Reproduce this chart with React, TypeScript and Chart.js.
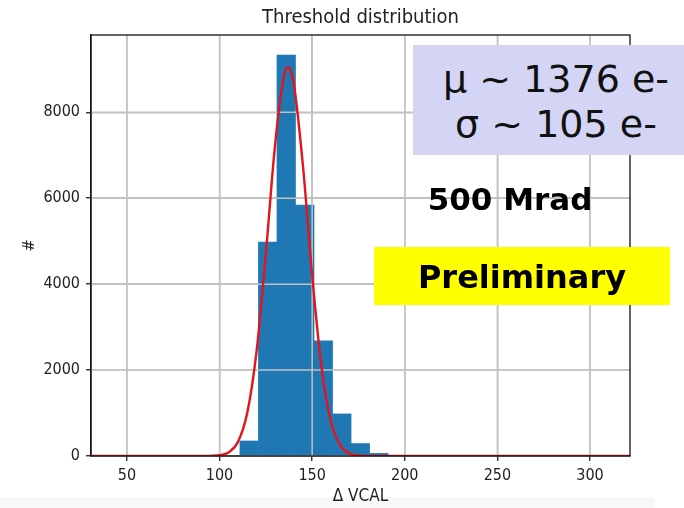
import React, { useEffect, useRef } from "react";
import { Chart, registerables } from "chart.js";

Chart.register(...registerables);

// ---- data ----
const binCenters = [116, 126, 136, 146, 156, 166, 176, 186];
const binCounts = [350, 4980, 9330, 5840, 2680, 980, 290, 60];
const fitX = [20, 90, 95, 100, 105, 110, 115, 120, 125, 130, 135, 137, 140, 145, 150, 155, 160, 165, 170, 175, 180, 185, 330];
const fitY = [0, 0, 3, 18, 87, 330, 1010, 2440, 4710, 7250, 8890, 9050, 8690, 6770, 4210, 2080, 820, 260, 65, 13, 2, 0, 0];
const xTicks = [50, 100, 150, 200, 250, 300];
const yTicks = [0, 2000, 4000, 6000, 8000];
const chartTitle = "Threshold distribution";
const xLabel = "Δ VCAL";
const yLabel = "#";
const statLines = ["μ ~ 1376 e-", "σ ~ 105 e-"];
const doseLabel = "500 Mrad";
const stampLabel = "Preliminary";

const AX_FONT = "'DejaVu Sans Condensed', 'DejaVu Sans', sans-serif";
const GRID = "#c2c2c2";
const TXT = "#222";

const gridOverlay = {
  id: "gridOverlay",
  afterDatasetDraw(chart: any, args: any) {
    if (args.index !== 1) return;
    const { ctx, chartArea: a, scales } = chart;
    const x = scales.x;
    const y = scales.y;
    ctx.save();
    ctx.beginPath();
    ctx.rect(a.left, a.top, a.right - a.left, a.bottom - a.top);
    ctx.clip();
    ctx.strokeStyle = GRID;
    ctx.lineWidth = 1.5;
    ctx.beginPath();
    for (const v of xTicks) {
      const px = x.getPixelForValue(v);
      ctx.moveTo(px, a.top);
      ctx.lineTo(px, a.bottom);
    }
    for (const v of yTicks) {
      const py = y.getPixelForValue(v);
      ctx.moveTo(a.left, py);
      ctx.lineTo(a.right, py);
    }
    ctx.stroke();
    ctx.restore();
  },
};

const frameAndTitle = {
  id: "frameAndTitle",
  afterDraw(chart: any) {
    const { ctx, chartArea: a } = chart;
    ctx.save();
    ctx.strokeStyle = "#111";
    ctx.lineWidth = 1.3;
    ctx.strokeRect(a.left, a.top, a.right - a.left, a.bottom - a.top);
    ctx.fillStyle = TXT;
    ctx.font = `20px ${AX_FONT}`;
    ctx.textAlign = "center";
    ctx.textBaseline = "middle";
    ctx.fillText(chartTitle, (a.left + a.right) / 2, 18);
    ctx.restore();
  },
};

export default function App() {
  const ref = useRef<HTMLCanvasElement | null>(null);

  useEffect(() => {
    if (!ref.current) return;
    const chart = new Chart(ref.current, {
      type: "bar",
      data: {
        datasets: [
          {
            type: "line",
            data: fitX.map((x, i) => ({ x, y: fitY[i] })),
            borderColor: "#e3151c",
            borderWidth: 2.4,
            pointRadius: 0,
            cubicInterpolationMode: "monotone",
            fill: false,
          } as any,
          {
            type: "bar",
            data: binCenters.map((x, i) => ({ x, y: binCounts[i] })),
            backgroundColor: "#1f77b4",
            borderWidth: 0,
            barPercentage: 1,
            categoryPercentage: 1,
          } as any,
        ],
      },
      options: {
        animation: false,
        responsive: false,
        maintainAspectRatio: false,
        layout: { padding: { top: 35, right: 54, left: 0, bottom: 0 } },
        plugins: { legend: { display: false }, tooltip: { enabled: false }, title: { display: false } },
        scales: {
          x: {
            type: "linear",
            min: 30.6,
            max: 321.6,
            offset: false,
            afterBuildTicks: (s: any) => {
              s.ticks = xTicks.map((value) => ({ value }));
            },
            afterFit: (s: any) => {
              s.height = 52;
            },
            ticks: {
              font: { family: AX_FONT, size: 16 },
              color: TXT,
              padding: 5,
              maxRotation: 0,
              autoSkip: false,
              callback: (v: any) => String(v),
            },
            grid: { offset: false, color: GRID, lineWidth: 1.5, tickColor: "#111", tickLength: 5, tickWidth: 1.2 },
            border: { color: "#111", width: 1.3 },
            title: {
              display: true,
              text: xLabel,
              font: { family: AX_FONT, size: 17 },
              color: TXT,
              padding: { top: 0, bottom: 1 },
            },
          },
          y: {
            type: "linear",
            min: 0,
            max: 9800,
            afterBuildTicks: (s: any) => {
              s.ticks = yTicks.map((value) => ({ value }));
            },
            afterFit: (s: any) => {
              s.width = 91;
            },
            ticks: {
              font: { family: AX_FONT, size: 16 },
              color: TXT,
              padding: 6,
              autoSkip: false,
              callback: (v: any) => String(v),
            },
            grid: { offset: false, color: GRID, lineWidth: 1.5, tickColor: "#111", tickLength: 5, tickWidth: 1.2 },
            border: { color: "#111", width: 1.3 },
            title: {
              display: true,
              text: yLabel,
              font: { family: AX_FONT, size: 16 },
              color: TXT,
              padding: { top: 20, bottom: 0 },
            },
          },
        },
      } as any,
      plugins: [gridOverlay, frameAndTitle],
    });
    return () => chart.destroy();
  }, []);

  const base: React.CSSProperties = { position: "absolute", whiteSpace: "nowrap", textAlign: "center", color: "#000" };

  return (
    <div style={{ position: "absolute", left: 0, top: 0, width: 684, height: 508, background: "#fff", overflow: "hidden" }}>
      <div style={{ position: "absolute", left: 0, top: 497, width: 655, height: 11, background: "#f8f8f8" }} />
      <canvas ref={ref} width={684} height={508} style={{ position: "absolute", left: 0, top: 0, width: 684, height: 508 }} />
      <div style={{ position: "absolute", left: 413, top: 45, width: 271, height: 110, background: "#d4d4f4" }} />
      <div
        style={{
          ...base,
          left: 430,
          top: 57.3,
          width: 252,
          fontFamily: "'DejaVu Sans', sans-serif",
          fontSize: 38,
          lineHeight: "45px",
          color: "#111",
        }}
      >
        {statLines.map((l, i) => (
          <div key={i}>{l}</div>
        ))}
      </div>
      <div
        style={{
          ...base,
          left: 410,
          top: 183.75,
          width: 200,
          fontFamily: "'DejaVu Sans', sans-serif",
          fontWeight: "bold",
          fontSize: 31,
          lineHeight: "31px",
        }}
      >
        {doseLabel}
      </div>
      <div style={{ position: "absolute", left: 374, top: 247, width: 296, height: 58, background: "#ffff00" }} />
      <div
        style={{
          ...base,
          left: 372,
          top: 261,
          width: 300,
          fontFamily: "'DejaVu Sans', sans-serif",
          fontWeight: "bold",
          fontSize: 32,
          lineHeight: "32px",
        }}
      >
        {stampLabel}
      </div>
    </div>
  );
}
